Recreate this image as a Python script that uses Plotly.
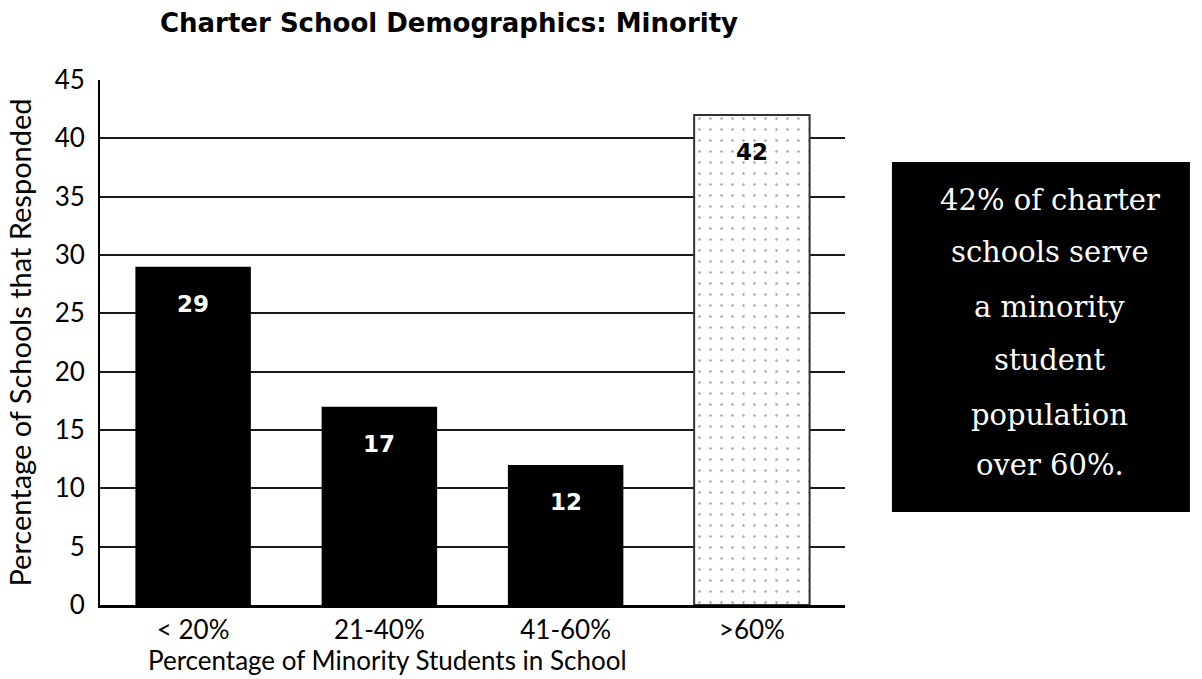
import plotly.graph_objects as go

# Share of responding charter schools by minority enrolment band
categories = ["< 20%", "21-40%", "41-60%", ">60%"]
values = [29, 17, 12, 42]
y_ticks = [0, 5, 10, 15, 20, 25, 30, 35, 40, 45]
y_tick_text = ["0", "5", "10", "15", "20", "25", "30", "35", "40", "45"]
callout_lines = ["42% of charter", "schools serve", "a minority", "student",
                 "population", "over 60%."]

SANS = "Lato, 'Open Sans', sans-serif"
SANS_BOLD = "'DejaVu Sans', Lato, sans-serif"
SERIF = "'DejaVu Serif', 'Liberation Serif', serif"

bar_colors = ["black", "black", "black", "white"]
pattern_shapes = ["", "", "", "."]
line_colors = ["black", "black", "black", "#333333"]
line_widths = [0, 0, 0, 2]
label_colors = ["white", "white", "white", "black"]

fig = go.Figure(
    go.Bar(
        x=categories,
        y=values,
        marker=dict(
            color=bar_colors,
            line=dict(color=line_colors, width=line_widths),
            pattern=dict(shape=pattern_shapes, fgcolor="#555555", bgcolor="white",
                         size=11, solidity=0.04),
        ),
        hoverinfo="x+y",
    )
)

# value labels set just below the top of each bar
for cat, val, col in zip(categories, values, label_colors):
    fig.add_annotation(x=cat, y=val, text=f"<b>{val}</b>", showarrow=False,
                       yanchor="top", yshift=-22,
                       font=dict(family=SANS_BOLD, size=23, color=col))

# black callout panel to the right of the plot
fig.add_shape(type="rect", xref="paper", yref="paper",
              x0=1.063, x1=1.463, y0=0.177, y1=0.844,
              fillcolor="black", line=dict(width=0), layer="above")
line_px = [200, 252, 307, 360, 415, 465]
for txt, py in zip(callout_lines, line_px):
    fig.add_annotation(xref="paper", yref="paper", x=1.275, y=(605 - py) / 525,
                       text=txt, showarrow=False, xanchor="center", yanchor="middle",
                       font=dict(family=SERIF, size=29, color="white"))

# x-axis title, set left of the plot centre
fig.add_annotation(xref="paper", yref="paper", x=(387 - 100) / 745, y=(605 - 660) / 525,
                   text="Percentage of Minority Students in School", showarrow=False,
                   xanchor="center", yanchor="middle",
                   font=dict(family=SANS, size=26, color="black"))

fig.update_layout(
    width=1202, height=679,
    margin=dict(l=100, r=357, t=80, b=74),
    paper_bgcolor="white", plot_bgcolor="white",
    bargap=0.38,
    showlegend=False,
    title=dict(text="<b>Charter School Demographics: Minority</b>",
               x=449 / 1202, xanchor="center", y=1 - 23 / 679, yanchor="middle",
               font=dict(family=SANS_BOLD, size=26, color="black")),
    font=dict(family=SANS, color="black"),
)

fig.update_xaxes(
    showgrid=False, showline=True, linecolor="black", linewidth=3,
    ticks="", tickfont=dict(family=SANS, size=26, color="black"),
    automargin=False,
)
fig.update_yaxes(
    range=[0, 45], tickvals=y_ticks, ticktext=y_tick_text,
    showgrid=True, gridcolor="#1a1a1a", gridwidth=1.5,
    showline=True, linecolor="black", linewidth=2,
    ticks="", ticklabelstandoff=8,
    tickfont=dict(family=SANS, size=26, color="black"),
    zeroline=False, automargin=False,
    title=dict(text="Percentage of Schools that Responded",
               font=dict(family=SANS, size=29, color="black"), standoff=14),
)

fig.write_html("out.html")
